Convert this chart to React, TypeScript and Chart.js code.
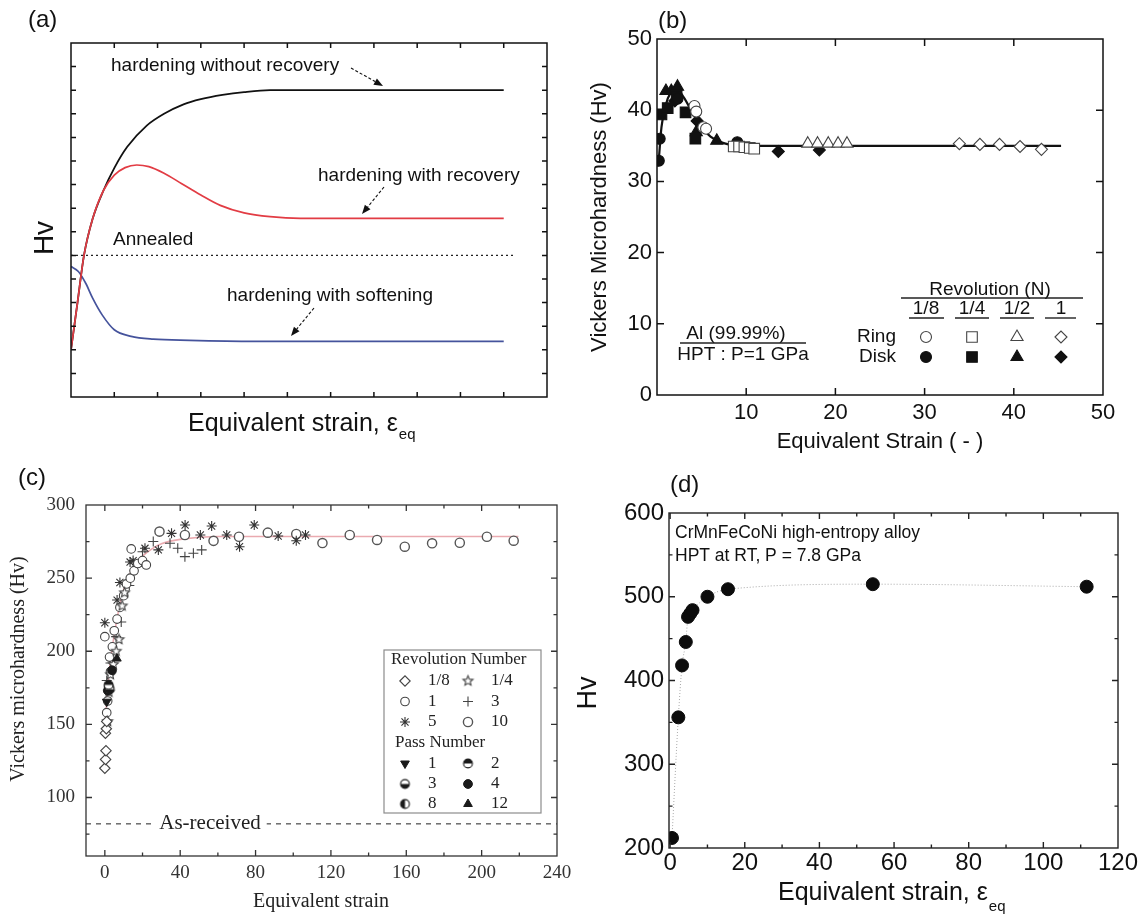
import React, { useEffect, useRef } from 'react';
import { Chart, registerables } from 'chart.js';
import { drawPoint } from 'chart.js/helpers';

Chart.register(...registerables);

const SANS = '"Liberation Sans", Arial, Helvetica, sans-serif';
const SERIF = '"Liberation Serif", "Times New Roman", Times, serif';

// ---------- (a) schematic hardening behaviours (arbitrary units) ----------
const A_X_NO_RECOVERY = [0, 0.15, 0.3, 0.5, 0.75, 1.0, 1.3, 1.75, 2.15, 2.6, 3.0, 3.5, 4.0, 4.6, 10];
const A_Y_NO_RECOVERY = [2.0, 4.0, 6.0, 7.55, 8.75, 9.7, 10.6, 11.5, 12.0, 12.4, 12.62, 12.8, 12.92, 13.0, 13.0];
const A_X_RECOVERY = [0, 0.15, 0.3, 0.5, 0.75, 1.0, 1.25, 1.52, 1.8, 2.15, 2.55, 3.0, 3.45, 4.0, 4.6, 5.3, 10];
const A_Y_RECOVERY = [2.0, 4.0, 6.0, 7.55, 8.75, 9.4, 9.72, 9.83, 9.76, 9.48, 9.05, 8.56, 8.12, 7.8, 7.64, 7.57, 7.57];
const A_X_SOFTENING = [0, 0.17, 0.34, 0.5, 0.72, 1.0, 1.39, 1.9, 2.74, 4.26, 10];
const A_Y_SOFTENING = [5.53, 5.32, 4.82, 4.19, 3.48, 2.85, 2.57, 2.45, 2.4, 2.36, 2.36];
const A_X_ANNEALED = [0, 10.25];
const A_Y_ANNEALED = [6.0, 6.0];

// ---------- (b) Al (99.99%), HPT at 1 GPa ----------
const B_X_TICKS = [0, 10, 20, 30, 40, 50];
const B_Y_TICKS = [0, 10, 20, 30, 40, 50];
const B_REVOLUTIONS = ['1/8', '1/4', '1/2', '1'];
const B_RING_EIGHTH_X = [4.2, 4.4, 5.2, 5.5];
const B_RING_EIGHTH_Y = [40.6, 39.8, 37.6, 37.4];
const B_RING_QUARTER_X = [8.6, 9.2, 9.8, 10.4, 10.9];
const B_RING_QUARTER_Y = [34.9, 34.9, 34.8, 34.7, 34.6];
const B_RING_HALF_X = [16.9, 18.0, 19.2, 20.3, 21.3];
const B_RING_HALF_Y = [35.3, 35.3, 35.3, 35.3, 35.3];
const B_RING_ONE_X = [33.9, 36.2, 38.4, 40.7, 43.1];
const B_RING_ONE_Y = [35.3, 35.2, 35.2, 34.9, 34.5];
const B_DISK_EIGHTH_X = [0.2, 0.3, 2.3, 9.0];
const B_DISK_EIGHTH_Y = [32.9, 36.0, 41.6, 35.5];
const B_DISK_QUARTER_X = [0.5, 1.2, 2.2, 3.2, 4.3];
const B_DISK_QUARTER_Y = [39.4, 40.3, 42.0, 39.7, 36.0];
const B_DISK_HALF_X = [1.0, 1.6, 2.3, 4.4, 6.7];
const B_DISK_HALF_Y = [42.7, 42.7, 43.3, 36.9, 35.7];
const B_DISK_ONE_X = [2.0, 4.5, 13.6, 18.2];
const B_DISK_ONE_Y = [41.3, 38.5, 34.2, 34.4];
const B_FIT_X = [0.2, 0.5, 1.0, 1.5, 2.2, 3.0, 4.0, 5.0, 6.0, 7.0, 8.0, 9.0, 10.0, 45.3];
const B_FIT_Y = [33.0, 37.6, 40.8, 42.4, 43.0, 41.8, 39.6, 37.6, 36.3, 35.6, 35.2, 35.05, 35.0, 35.0];

// ---------- (c) revolution / pass number series ----------
const C_X_TICKS = [0, 40, 80, 120, 160, 200, 240];
const C_Y_TICKS = [100, 150, 200, 250, 300];
const C_REV_EIGHTH_X = [0.0, 0.4, 0.6, 0.3, 0.8, 1.0];
const C_REV_EIGHTH_Y = [120, 126, 132, 144, 147, 152];
const C_REV_QUARTER_X = [1.5, 2.2, 3.0, 4.5, 6.0, 7.5, 9.2, 10.5];
const C_REV_QUARTER_Y = [152, 172, 184, 191, 200, 208, 231, 240];
const C_REV_ONE_X = [0.0, 1.0, 1.5, 2.5, 3.0, 4.0, 5.0, 6.5, 8.0, 10.0, 11.5, 13.5, 14.0, 15.5, 17.5, 20.0, 22.0];
const C_REV_ONE_Y = [210, 158, 166, 196, 186, 203, 214, 222, 230, 238, 246, 250, 270, 255, 260, 262, 259];
const C_REV_THREE_X = [1.0, 3.0, 6.0, 8.7, 13.0, 17.0, 20.0, 25.7, 34.6, 38.7, 42.5, 47.0, 51.4];
const C_REV_THREE_Y = [180, 192, 210, 220, 245, 258, 268, 275, 273.8, 270.4, 264.7, 267, 269.3];
const C_REV_FIVE_X = [0.0, 6.5, 8.0, 13.4, 15.0, 21.3, 28.4, 35.4, 42.6, 50.7, 56.7, 64.7, 71.5, 79.3, 92.0, 101.6, 106.5];
const C_REV_FIVE_Y = [219.5, 235, 247, 261, 262, 270.4, 269.3, 280.6, 286.3, 279.5, 285.6, 279.5, 271.5, 286.3, 278.8, 275.6, 279.5];
const C_REV_TEN_X = [29.0, 42.5, 57.7, 71.2, 86.5, 101.6, 115.5, 130.0, 144.5, 159.2, 173.7, 188.4, 202.8, 217.0];
const C_REV_TEN_Y = [281.8, 279.5, 275.5, 278.3, 281.1, 280.2, 274.0, 279.5, 276.1, 271.5, 273.8, 274.2, 278.3, 275.6];
const C_PASS_1_X = [1.0];
const C_PASS_1_Y = [165.5];
const C_PASS_2_X = [2.0];
const C_PASS_2_Y = [177];
const C_PASS_3_X = [2.6];
const C_PASS_3_Y = [174];
const C_PASS_4_X = [1.6, 3.8];
const C_PASS_4_Y = [173, 187];
const C_PASS_8_X = [2.2];
const C_PASS_8_Y = [175.5];
const C_PASS_12_X = [6.4];
const C_PASS_12_Y = [195];
const C_FIT_X = [0, 1, 2, 4, 6, 8, 10, 13, 16, 20, 25, 30, 40, 60, 219.5];
const C_FIT_Y = [148, 166, 182, 203, 219, 232, 242, 252, 259, 265, 270, 273.5, 276.5, 278.5, 278.5];
const C_AS_RECEIVED_X = [-10, 240];
const C_AS_RECEIVED_Y = [82, 82];
const C_REV_LABELS = ['1/8', '1/4', '1', '3', '5', '10'];
const C_PASS_LABELS = ['1', '2', '3', '4', '8', '12'];

// ---------- (d) CrMnFeCoNi, HPT at RT, 7.8 GPa ----------
const D_X_TICKS = [0, 20, 40, 60, 80, 100, 120];
const D_Y_TICKS = [200, 300, 400, 500, 600];
const D_STRAIN = [0.5, 2.2, 3.2, 4.2, 4.8, 5.4, 6.0, 10.0, 15.5, 54.3, 111.6];
const D_HV = [212, 356, 418, 446, 476, 480, 484, 500, 509, 515, 512];

type XY = { x: number; y: number };
const zip = (xs: number[], ys: number[]): XY[] => xs.map((x, i) => ({ x, y: ys[i] }));
const fixedTicks = (values: number[]) => (scale: any) => {
  scale.ticks = values.map((value) => ({ value }));
};

type Margin = { l: number; t: number; r: number; b: number };
type PanelGeom = { left: number; top: number; width: number; height: number; margin: Margin };

const PANEL_A: PanelGeom = { left: 0, top: 0, width: 573, height: 460, margin: { l: 71, t: 43, r: 26, b: 63 } };
const PANEL_B: PanelGeom = { left: 573, top: 0, width: 573, height: 460, margin: { l: 84, t: 39, r: 43, b: 65 } };
const PANEL_C: PanelGeom = { left: 0, top: 460, width: 620, height: 464, margin: { l: 86, t: 45, r: 63, b: 68 } };
const PANEL_D: PanelGeom = { left: 573, top: 460, width: 573, height: 464, margin: { l: 96, t: 53, r: 28, b: 76 } };

function frameScales(m: Margin, x: any, y: any) {
  const plain = { grid: { display: false, drawTicks: false }, border: { display: false } };
  return {
    x: { type: 'linear', position: 'bottom', ...plain, ...x, afterFit: (s: any) => { s.height = m.b; } },
    y: { type: 'linear', position: 'left', ...plain, ...y, afterFit: (s: any) => { s.width = m.l; } },
    xTop: { type: 'linear', axis: 'x', position: 'top', min: 0, max: 1, ...plain, ticks: { display: false }, afterFit: (s: any) => { s.height = m.t; } },
    yRight: { type: 'linear', axis: 'y', position: 'right', min: 0, max: 1, ...plain, ticks: { display: false }, afterFit: (s: any) => { s.width = m.r; } },
  };
}

function baseOptions(m: Margin, x: any, y: any) {
  return {
    responsive: false,
    animation: false,
    events: [],
    layout: { padding: 0 },
    plugins: { legend: { display: false }, tooltip: { enabled: false }, title: { display: false } },
    scales: frameScales(m, x, y),
  };
}

type FrameSpec = {
  xMajor: number; xMinor: number; yMajor: number; yMinor: number;
  majorLen: number; minorLen: number; color: string; width: number;
};

function stepValues(min: number, max: number, step: number): number[] {
  const out: number[] = [];
  const start = Math.ceil(min / step - 1e-9);
  for (let k = start; k * step <= max + 1e-9; k++) out.push(+(k * step).toFixed(6));
  return out;
}

function drawFrame(chart: any, f: FrameSpec) {
  const { ctx, chartArea: a } = chart;
  const xs = chart.scales.x;
  const ys = chart.scales.y;
  const isMajor = (v: number, step: number) => Math.abs(v / step - Math.round(v / step)) < 1e-6;
  ctx.save();
  ctx.strokeStyle = f.color;
  ctx.lineWidth = f.width;
  ctx.beginPath();
  for (const v of stepValues(xs.min, xs.max, f.xMinor)) {
    if (Math.abs(v - xs.min) < 1e-9 || Math.abs(v - xs.max) < 1e-9) continue;
    const len = isMajor(v, f.xMajor) ? f.majorLen : f.minorLen;
    const p = xs.getPixelForValue(v);
    ctx.moveTo(p, a.bottom);
    ctx.lineTo(p, a.bottom - len);
    ctx.moveTo(p, a.top);
    ctx.lineTo(p, a.top + len);
  }
  for (const v of stepValues(ys.min, ys.max, f.yMinor)) {
    if (Math.abs(v - ys.min) < 1e-9 || Math.abs(v - ys.max) < 1e-9) continue;
    const len = isMajor(v, f.yMajor) ? f.majorLen : f.minorLen;
    const p = ys.getPixelForValue(v);
    ctx.moveTo(a.left, p);
    ctx.lineTo(a.left + len, p);
    ctx.moveTo(a.right, p);
    ctx.lineTo(a.right - len, p);
  }
  ctx.stroke();
  ctx.strokeRect(a.left, a.top, a.right - a.left, a.bottom - a.top);
  ctx.restore();
}

type TextSpec = {
  text: string; x: number; y: number; size: number; family?: string;
  align?: CanvasTextAlign; baseline?: CanvasTextBaseline; rotate?: boolean; color?: string;
};

function drawText(ctx: CanvasRenderingContext2D, t: TextSpec, g: PanelGeom) {
  ctx.save();
  ctx.font = `${t.size}px ${t.family ?? SANS}`;
  ctx.fillStyle = t.color ?? '#111';
  ctx.textAlign = t.align ?? 'left';
  ctx.textBaseline = t.baseline ?? 'middle';
  ctx.translate(t.x - g.left, t.y - g.top);
  if (t.rotate) ctx.rotate(-Math.PI / 2);
  ctx.fillText(t.text, 0, 0);
  ctx.restore();
}

function drawRule(ctx: CanvasRenderingContext2D, x1: number, x2: number, y: number, g: PanelGeom, width = 1.4) {
  ctx.save();
  ctx.strokeStyle = '#222';
  ctx.lineWidth = width;
  ctx.beginPath();
  ctx.moveTo(x1 - g.left, y - g.top);
  ctx.lineTo(x2 - g.left, y - g.top);
  ctx.stroke();
  ctx.restore();
}

function drawArrow(ctx: CanvasRenderingContext2D, x1: number, y1: number, x2: number, y2: number, g: PanelGeom) {
  const ax = x1 - g.left, ay = y1 - g.top, bx = x2 - g.left, by = y2 - g.top;
  const ang = Math.atan2(by - ay, bx - ax);
  const head = 9, half = 3.6;
  const hx = bx - head * Math.cos(ang), hy = by - head * Math.sin(ang);
  ctx.save();
  ctx.strokeStyle = '#111';
  ctx.fillStyle = '#111';
  ctx.lineWidth = 1.1;
  ctx.setLineDash([3, 2]);
  ctx.beginPath();
  ctx.moveTo(ax, ay);
  ctx.lineTo(hx, hy);
  ctx.stroke();
  ctx.setLineDash([]);
  ctx.beginPath();
  ctx.moveTo(bx, by);
  ctx.lineTo(hx + half * Math.sin(ang), hy - half * Math.cos(ang));
  ctx.lineTo(hx - half * Math.sin(ang), hy + half * Math.cos(ang));
  ctx.closePath();
  ctx.fill();
  ctx.restore();
}

function drawStrainTitle(ctx: CanvasRenderingContext2D, left: number, baseline: number, size: number, subSize: number, subDrop: number, g: PanelGeom) {
  ctx.save();
  ctx.fillStyle = '#111';
  ctx.textAlign = 'left';
  ctx.textBaseline = 'alphabetic';
  ctx.font = `${size}px ${SANS}`;
  const main = 'Equivalent strain, ε';
  ctx.fillText(main, left - g.left, baseline - g.top);
  const w = ctx.measureText(main).width;
  ctx.font = `${subSize}px ${SANS}`;
  ctx.fillText('eq', left - g.left + w + 1, baseline - g.top + subDrop);
  ctx.restore();
}

function mark(ctx: CanvasRenderingContext2D, style: any, x: number, y: number, g: PanelGeom) {
  ctx.save();
  ctx.fillStyle = style.fill;
  ctx.strokeStyle = style.stroke;
  ctx.lineWidth = style.lw;
  drawPoint(ctx, { pointStyle: style.pointStyle, radius: style.radius, rotation: style.rotation ?? 0, borderWidth: style.lw }, x - g.left, y - g.top);
  ctx.restore();
}

const curve = (label: string, xs: number[], ys: number[], color: string, width: number, extra: any = {}) => ({
  label,
  data: zip(xs, ys),
  showLine: true,
  borderColor: color,
  backgroundColor: color,
  borderWidth: width,
  pointRadius: 0,
  cubicInterpolationMode: 'monotone',
  fill: false,
  ...extra,
});

// ---------------------------------------------------------------- (a)
function makeA() {
  const g = PANEL_A;
  const frame: FrameSpec = { xMajor: 1, xMinor: 1, yMajor: 1, yMinor: 1, majorLen: 5, minorLen: 5, color: '#111', width: 1.5 };
  const texts: TextSpec[] = [
    { text: '(a)', x: 28, y: 20, size: 24 },
    { text: 'hardening without recovery', x: 111, y: 66, size: 19 },
    { text: 'hardening with recovery', x: 318, y: 176, size: 19 },
    { text: 'Annealed', x: 113, y: 240, size: 19 },
    { text: 'hardening with softening', x: 227, y: 296, size: 19 },
    { text: 'Hv', x: 45, y: 238, size: 28, align: 'center', rotate: true },
  ];
  const decor = {
    id: 'decorA',
    afterDatasetsDraw(chart: any) {
      const ctx = chart.ctx;
      drawFrame(chart, frame);
      texts.forEach((t) => drawText(ctx, t, g));
      drawArrow(ctx, 351, 68, 383, 86, g);
      drawArrow(ctx, 384, 187, 362, 214, g);
      drawArrow(ctx, 314, 308, 291, 336, g);
      drawStrainTitle(ctx, 188, 431, 25, 15, 8, g);
    },
  };
  return {
    type: 'scatter',
    data: {
      datasets: [
        curve('hardening with recovery', A_X_RECOVERY, A_Y_RECOVERY, '#e23c44', 1.7),
        curve('hardening without recovery', A_X_NO_RECOVERY, A_Y_NO_RECOVERY, '#111', 1.8),
        curve('hardening with softening', A_X_SOFTENING, A_Y_SOFTENING, '#45539c', 1.7),
        curve('Annealed', A_X_ANNEALED, A_Y_ANNEALED, '#222', 1.3, { borderDash: [2, 3], cubicInterpolationMode: 'default', tension: 0 }),
      ],
    },
    options: baseOptions(
      g.margin,
      { min: 0, max: 11, ticks: { display: false, stepSize: 1 } },
      { min: 0, max: 15, ticks: { display: false, stepSize: 1 } },
    ),
    plugins: [decor],
  };
}

// ---------------------------------------------------------------- (b)
const B_SHAPES = [
  { pointStyle: 'circle', radius: 5.5 },
  { pointStyle: 'rect', radius: 7.5 },
  { pointStyle: 'triangle', radius: 7 },
  { pointStyle: 'rectRot', radius: 6 },
];

function makeB() {
  const g = PANEL_B;
  const frame: FrameSpec = { xMajor: 10, xMinor: 10, yMajor: 10, yMinor: 10, majorLen: 7, minorLen: 7, color: '#111', width: 1.5 };
  const ringX = [B_RING_EIGHTH_X, B_RING_QUARTER_X, B_RING_HALF_X, B_RING_ONE_X];
  const ringY = [B_RING_EIGHTH_Y, B_RING_QUARTER_Y, B_RING_HALF_Y, B_RING_ONE_Y];
  const diskX = [B_DISK_EIGHTH_X, B_DISK_QUARTER_X, B_DISK_HALF_X, B_DISK_ONE_X];
  const diskY = [B_DISK_EIGHTH_Y, B_DISK_QUARTER_Y, B_DISK_HALF_Y, B_DISK_ONE_Y];
  const ringStyle = (i: number) => ({ ...B_SHAPES[i], fill: '#fff', stroke: '#444', lw: 1.1 });
  const diskStyle = (i: number) => ({ ...B_SHAPES[i], fill: '#111', stroke: '#111', lw: 1.1 });
  const markerSet = (label: string, xs: number[], ys: number[], s: any) => ({
    label,
    data: zip(xs, ys),
    showLine: false,
    pointStyle: s.pointStyle,
    pointRadius: s.radius,
    pointBackgroundColor: s.fill,
    pointBorderColor: s.stroke,
    pointBorderWidth: s.lw,
    borderColor: s.stroke,
    backgroundColor: s.fill,
  });
  const datasets: any[] = [];
  B_REVOLUTIONS.forEach((n, i) => datasets.push(markerSet(`Ring ${n}`, ringX[i], ringY[i], ringStyle(i))));
  B_REVOLUTIONS.forEach((n, i) => datasets.push(markerSet(`Disk ${n}`, diskX[i], diskY[i], diskStyle(i))));
  datasets.push(curve('fit', B_FIT_X, B_FIT_Y, '#111', 2.2));

  const colX = [926, 972, 1017, 1061];
  const colRule = [[909, 944], [955, 989], [1000, 1034], [1045, 1076]];
  const texts: TextSpec[] = [
    { text: '(b)', x: 658, y: 21, size: 24 },
    { text: 'Vickers Microhardness (Hv)', x: 600, y: 217, size: 22, align: 'center', rotate: true },
    { text: 'Equivalent Strain ( - )', x: 880, y: 442, size: 22, align: 'center' },
    { text: 'Al (99.99%)', x: 736, y: 334, size: 19, align: 'center' },
    { text: 'HPT : P=1 GPa', x: 743, y: 355, size: 19, align: 'center' },
    { text: 'Revolution (N)', x: 990, y: 290, size: 19, align: 'center' },
    { text: 'Ring', x: 896, y: 337, size: 19, align: 'right' },
    { text: 'Disk', x: 896, y: 357, size: 19, align: 'right' },
  ];
  const decor = {
    id: 'decorB',
    afterDatasetsDraw(chart: any) {
      const ctx = chart.ctx;
      drawFrame(chart, frame);
      texts.forEach((t) => drawText(ctx, t, g));
      drawRule(ctx, 680, 806, 343, g);
      drawRule(ctx, 901, 1083, 298, g);
      B_REVOLUTIONS.forEach((n, i) => {
        drawText(ctx, { text: n, x: colX[i], y: 309, size: 19, align: 'center' }, g);
        drawRule(ctx, colRule[i][0], colRule[i][1], 318, g);
        mark(ctx, ringStyle(i), colX[i], 337, g);
        mark(ctx, diskStyle(i), colX[i], 357, g);
      });
    },
  };
  const tickFont = { family: SANS, size: 22 };
  return {
    type: 'scatter',
    data: { datasets },
    options: baseOptions(
      g.margin,
      {
        min: 0, max: 50,
        afterBuildTicks: fixedTicks(B_X_TICKS),
        ticks: { font: tickFont, color: '#111', padding: 5, autoSkip: false, maxRotation: 0, callback: (v: number) => (v === 0 ? '' : String(v)) },
      },
      { min: 0, max: 50, afterBuildTicks: fixedTicks(B_Y_TICKS), ticks: { font: tickFont, color: '#111', padding: 5, autoSkip: false } },
    ),
    plugins: [decor],
  };
}

// ---------------------------------------------------------------- (c)
const C_INK = '#444';

function glyph(r: number, paint: (gc: CanvasRenderingContext2D, c: number, r: number) => void): HTMLCanvasElement {
  const cv = document.createElement('canvas');
  const d = Math.ceil(r * 2 + 4);
  cv.width = d;
  cv.height = d;
  const gc = cv.getContext('2d')!;
  paint(gc, d / 2, r);
  return cv;
}

function openStar(r: number) {
  return glyph(r, (gc, c, rr) => {
    gc.beginPath();
    for (let i = 0; i < 10; i++) {
      const a = -Math.PI / 2 + (i * Math.PI) / 5;
      const rad = i % 2 ? rr * 0.45 : rr;
      gc.lineTo(c + rad * Math.cos(a), c + rad * Math.sin(a));
    }
    gc.closePath();
    gc.fillStyle = '#fff';
    gc.fill();
    gc.strokeStyle = C_INK;
    gc.lineWidth = 1.1;
    gc.stroke();
  });
}

function halfDisc(r: number, from: number, to: number) {
  return glyph(r, (gc, c, rr) => {
    gc.beginPath();
    gc.arc(c, c, rr, 0, Math.PI * 2);
    gc.fillStyle = '#fff';
    gc.fill();
    gc.beginPath();
    gc.moveTo(c, c);
    gc.arc(c, c, rr, from, to);
    gc.closePath();
    gc.fillStyle = '#1a1a1a';
    gc.fill();
    gc.beginPath();
    gc.arc(c, c, rr, 0, Math.PI * 2);
    gc.strokeStyle = '#1a1a1a';
    gc.lineWidth = 1.1;
    gc.stroke();
  });
}

function makeC() {
  const g = PANEL_C;
  const frame: FrameSpec = { xMajor: 40, xMinor: 20, yMajor: 50, yMinor: 25, majorLen: 6, minorLen: 3.5, color: '#333', width: 1.3 };
  const revStyles = [
    { pointStyle: 'rectRot', radius: 5.2, fill: '#fff', stroke: C_INK, lw: 1.1 },
    { pointStyle: openStar(5.2), radius: 5, fill: '#fff', stroke: C_INK, lw: 1.1 },
    { pointStyle: 'circle', radius: 4.3, fill: '#fff', stroke: C_INK, lw: 1.1 },
    { pointStyle: 'cross', radius: 5, fill: '#fff', stroke: C_INK, lw: 1.1 },
    { pointStyle: 'star', radius: 5, fill: '#fff', stroke: '#333', lw: 1.1 },
    { pointStyle: 'circle', radius: 4.6, fill: '#fff', stroke: '#555', lw: 1.4 },
  ];
  const passStyles = [
    { pointStyle: 'triangle', rotation: 180, radius: 5, fill: '#1a1a1a', stroke: '#1a1a1a', lw: 1 },
    { pointStyle: halfDisc(4.4, Math.PI, Math.PI * 2), radius: 4.4, fill: '#fff', stroke: '#1a1a1a', lw: 1 },
    { pointStyle: halfDisc(4.4, 0, Math.PI), radius: 4.4, fill: '#fff', stroke: '#1a1a1a', lw: 1 },
    { pointStyle: 'circle', radius: 4.4, fill: '#1a1a1a', stroke: '#1a1a1a', lw: 1 },
    { pointStyle: halfDisc(4.4, Math.PI / 2, (Math.PI * 3) / 2), radius: 4.4, fill: '#fff', stroke: '#1a1a1a', lw: 1 },
    { pointStyle: 'triangle', radius: 5, fill: '#1a1a1a', stroke: '#1a1a1a', lw: 1 },
  ];
  const revX = [C_REV_EIGHTH_X, C_REV_QUARTER_X, C_REV_ONE_X, C_REV_THREE_X, C_REV_FIVE_X, C_REV_TEN_X];
  const revY = [C_REV_EIGHTH_Y, C_REV_QUARTER_Y, C_REV_ONE_Y, C_REV_THREE_Y, C_REV_FIVE_Y, C_REV_TEN_Y];
  const passX = [C_PASS_1_X, C_PASS_2_X, C_PASS_3_X, C_PASS_4_X, C_PASS_8_X, C_PASS_12_X];
  const passY = [C_PASS_1_Y, C_PASS_2_Y, C_PASS_3_Y, C_PASS_4_Y, C_PASS_8_Y, C_PASS_12_Y];
  const markerSet = (label: string, xs: number[], ys: number[], s: any) => ({
    label,
    data: zip(xs, ys),
    showLine: false,
    pointStyle: s.pointStyle,
    pointRadius: s.radius,
    pointRotation: s.rotation ?? 0,
    pointBackgroundColor: s.fill,
    pointBorderColor: s.stroke,
    pointBorderWidth: s.lw,
    borderColor: s.stroke,
    backgroundColor: s.fill,
  });
  const datasets: any[] = [];
  C_PASS_LABELS.forEach((n, i) => datasets.push(markerSet(`Pass ${n}`, passX[i], passY[i], passStyles[i])));
  C_REV_LABELS.forEach((n, i) => datasets.push(markerSet(`N = ${n}`, revX[i], revY[i], revStyles[i])));
  datasets.push(curve('fit', C_FIT_X, C_FIT_Y, '#eaaab0', 1.6));
  datasets.push(curve('As-received', C_AS_RECEIVED_X, C_AS_RECEIVED_Y, '#555', 1.3, { borderDash: [5, 5], cubicInterpolationMode: 'default', tension: 0 }));

  const texts: TextSpec[] = [
    { text: '(c)', x: 18, y: 478, size: 24 },
    { text: 'Vickers microhardness (Hv)', x: 19, y: 669, size: 20, family: SERIF, align: 'center', rotate: true, color: '#222' },
    { text: 'Equivalent strain', x: 321, y: 902, size: 20, family: SERIF, align: 'center', color: '#222' },
    { text: 'Revolution Number', x: 391, y: 660, size: 17, family: SERIF, color: '#222' },
    { text: 'Pass Number', x: 395, y: 743, size: 17, family: SERIF, color: '#222' },
  ];
  const rowsRev = [681, 701.5, 722];
  const rowsPass = [763.5, 784, 804];
  const decor = {
    id: 'decorC',
    afterDatasetsDraw(chart: any) {
      const ctx = chart.ctx as CanvasRenderingContext2D;
      // label sitting on the as-received line
      ctx.save();
      ctx.font = `21px ${SERIF}`;
      const w = ctx.measureText('As-received').width;
      ctx.fillStyle = '#fff';
      const yLine = chart.scales.y.getPixelForValue(C_AS_RECEIVED_Y[0]);
      ctx.fillRect(210 - g.left - w / 2 - 6, yLine - 12, w + 12, 24);
      ctx.restore();
      drawText(ctx, { text: 'As-received', x: 210, y: yLine + g.top, size: 21, family: SERIF, align: 'center', color: '#222' }, g);

      drawFrame(chart, frame);

      // legend box
      ctx.save();
      ctx.fillStyle = '#fff';
      ctx.fillRect(384 - g.left, 650 - g.top, 157, 163);
      ctx.strokeStyle = '#8c8c8c';
      ctx.lineWidth = 1.2;
      ctx.strokeRect(384 - g.left, 650 - g.top, 157, 163);
      ctx.restore();
      texts.forEach((t) => drawText(ctx, t, g));
      const entry = (style: any, label: string, col: number, y: number) => {
        const mx = col === 0 ? 405 : 468;
        const tx = col === 0 ? 428 : 491;
        mark(ctx, style, mx, y, g);
        drawText(ctx, { text: label, x: tx, y, size: 17, family: SERIF, color: '#222' }, g);
      };
      C_REV_LABELS.forEach((n, i) => entry(revStyles[i], n, i % 2, rowsRev[Math.floor(i / 2)]));
      C_PASS_LABELS.forEach((n, i) => entry(passStyles[i], n, i % 2, rowsPass[Math.floor(i / 2)]));
    },
  };
  const tickFont = { family: SERIF, size: 19 };
  return {
    type: 'scatter',
    data: { datasets },
    options: baseOptions(
      g.margin,
      { min: -10, max: 240, afterBuildTicks: fixedTicks(C_X_TICKS), ticks: { font: tickFont, color: '#333', padding: 6, autoSkip: false, maxRotation: 0 } },
      { min: 60, max: 300, afterBuildTicks: fixedTicks(C_Y_TICKS), ticks: { font: tickFont, color: '#333', padding: 11, autoSkip: false } },
    ),
    plugins: [decor],
  };
}

// ---------------------------------------------------------------- (d)
function makeD() {
  const g = PANEL_D;
  const frame: FrameSpec = { xMajor: 20, xMinor: 10, yMajor: 100, yMinor: 50, majorLen: 6, minorLen: 3.5, color: '#222', width: 1.4 };
  const texts: TextSpec[] = [
    { text: '(d)', x: 670, y: 485, size: 24 },
    { text: 'CrMnFeCoNi high-entropy alloy', x: 675, y: 533, size: 17.5 },
    { text: 'HPT at RT, P = 7.8 GPa', x: 675, y: 556, size: 17.5 },
    { text: 'Hv', x: 589, y: 693, size: 27, align: 'center', rotate: true },
  ];
  const decor = {
    id: 'decorD',
    afterDatasetsDraw(chart: any) {
      const ctx = chart.ctx;
      drawFrame(chart, frame);
      texts.forEach((t) => drawText(ctx, t, g));
      drawStrainTitle(ctx, 778, 900, 25, 15, 11, g);
    },
  };
  const tickFont = { family: SANS, size: 24 };
  return {
    type: 'scatter',
    data: {
      datasets: [
        {
          label: 'CrMnFeCoNi',
          data: zip(D_STRAIN, D_HV),
          showLine: true,
          borderColor: '#a8a8a8',
          borderWidth: 1,
          borderDash: [1, 2],
          cubicInterpolationMode: 'monotone',
          pointStyle: 'circle',
          pointRadius: 6.5,
          pointBackgroundColor: '#0c0c0c',
          pointBorderColor: '#0c0c0c',
          pointBorderWidth: 1,
          backgroundColor: '#0c0c0c',
        },
      ],
    },
    options: baseOptions(
      g.margin,
      { min: -0.3, max: 120, afterBuildTicks: fixedTicks(D_X_TICKS), ticks: { font: tickFont, color: '#111', padding: 1, autoSkip: false, maxRotation: 0 } },
      { min: 200, max: 600, afterBuildTicks: fixedTicks(D_Y_TICKS), ticks: { font: tickFont, color: '#111', padding: 5, autoSkip: false } },
    ),
    plugins: [decor],
  };
}

function ChartPanel({ geom, make }: { geom: PanelGeom; make: () => any }) {
  const ref = useRef<HTMLCanvasElement>(null);
  useEffect(() => {
    const chart = new Chart(ref.current as HTMLCanvasElement, make());
    return () => chart.destroy();
  }, []);
  return (
    <canvas
      ref={ref}
      width={geom.width}
      height={geom.height}
      style={{ position: 'absolute', left: geom.left, top: geom.top, width: geom.width, height: geom.height }}
    />
  );
}

export default function App() {
  return (
    <div style={{ position: 'absolute', left: 0, top: 0, width: 1146, height: 924, background: '#fff', overflow: 'hidden' }}>
      <ChartPanel geom={PANEL_A} make={makeA} />
      <ChartPanel geom={PANEL_B} make={makeB} />
      <ChartPanel geom={PANEL_C} make={makeC} />
      <ChartPanel geom={PANEL_D} make={makeD} />
    </div>
  );
}
